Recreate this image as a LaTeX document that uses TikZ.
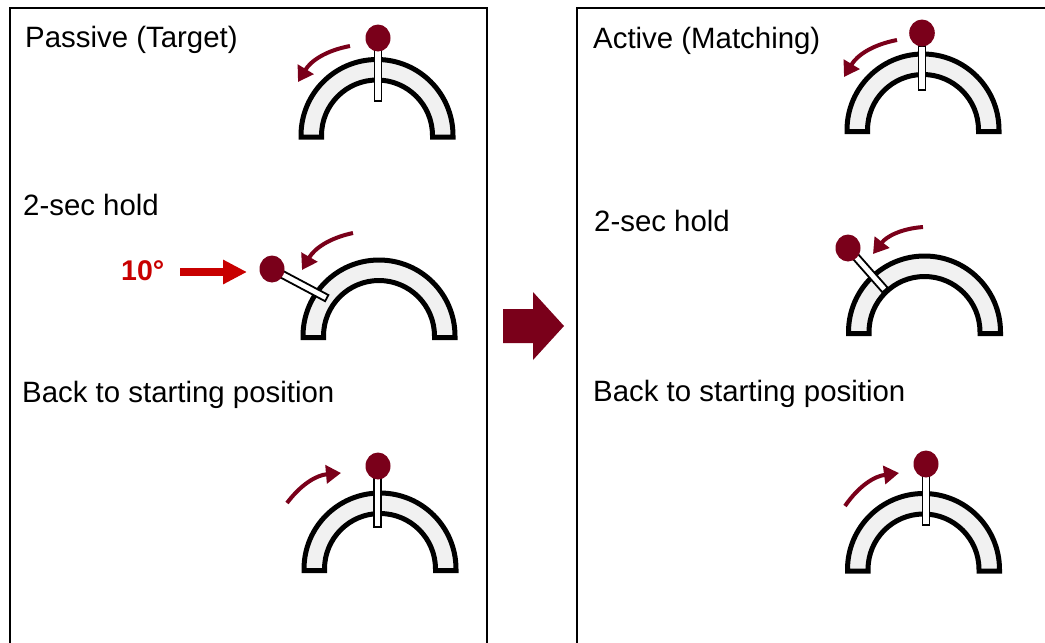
\documentclass[tikz,border=0pt]{standalone}
\usepackage{fontspec}
\setmainfont{Liberation Sans}
\usetikzlibrary{arrows.meta}
\definecolor{wine}{RGB}{122,0,26}
\definecolor{signalred}{RGB}{200,0,0}
\definecolor{bandgray}{RGB}{241,241,241}

\begin{document}
\begin{tikzpicture}[x=1pt,y=1pt,
  panel/.style={draw=black,line width=2pt},
  caption/.style={anchor=base west,inner sep=0pt,font=\fontsize{29.4}{34}\selectfont},
  anglecaption/.style={anchor=base west,inner sep=0pt,text=signalred,font=\fontsize{28.5}{34}\selectfont\bfseries},
  band/.style={fill=bandgray,draw=black,line width=5pt},
  stick/.style={fill=white,draw=black,line width=1.8pt},
  knob/.style={fill=wine},
  turn/.style={draw=wine,line width=4pt,-{Triangle[length=15pt,width=18pt]}},
  push/.style={draw=signalred,line width=8pt,-{Triangle[length=24pt,width=23pt]}},
  arch/.pic={
    \path[band] (-76,-1.5) -- (-76,0) arc[start angle=180,end angle=0,radius=76pt]
      -- (76,-1.5) -- (55.5,-1.5) -- (55.5,0)
      arc[start angle=0,end angle=180,radius=55.5pt] -- (-55.5,-1.5) -- cycle;
  }
]
\useasboundingbox (0,0) rectangle (1045,-643);

% two panels, running off the bottom edge
\draw[panel] (9.5,-660) -- (9.5,-8) -- (487,-8) -- (487,-660);
\draw[panel] (577,-660) -- (577,-8) -- (1052,-8) -- (1052,-660);

% captions
\node[caption] (ptitle) at (25,-47) {Passive (Target)};
\node[caption] (phold)  at (23,-215) {2-sec hold};
\node[caption] (pback)  at (22,-402) {Back to starting position};
\node[caption] (atitle) at (593,-48) {Active (Matching)};
\node[caption] (ahold)  at (594,-231) {2-sec hold};
\node[caption] (aback)  at (593,-401) {Back to starting position};
\node[anglecaption] (deg) at (121,-280) {10°};

% ---------- passive: start ----------
\pic at (377,-135.5) {arch};
\draw[stick] (374.5,-50) rectangle (381.5,-101);
\fill[knob] (378,-38) ellipse [x radius=12.5pt, y radius=13.5pt];
\coordinate (t1s) at (350,-46);
\coordinate (t1e) at (298,-82);
\draw[turn] (t1s) to[bend right=24] (t1e);

% ---------- passive: hold ----------
\pic at (379,-336) {arch};
\begin{scope}[shift={(272,-269)},rotate=-28]
  \draw[stick] (8,-3.5) rectangle (62,3.5);
\end{scope}
\fill[knob] (272,-269) ellipse [x radius=12.5pt, y radius=13.5pt];
\coordinate (t2s) at (353,-233);
\coordinate (t2e) at (302,-270);
\draw[turn] (t2s) to[bend right=24] (t2e);
\coordinate (p2s) at (180,-272);
\coordinate (p2e) at (247,-272);
\draw[push] (p2s) -- (p2e);

% ---------- passive: back ----------
\pic at (380,-569) {arch};
\draw[stick] (374,-476) rectangle (381,-527);
\fill[knob] (378,-466) ellipse [x radius=12.5pt, y radius=13.5pt];
\coordinate (t5s) at (287,-503);
\coordinate (t5e) at (341,-473);
\draw[turn] (t5s) to[bend left=24] (t5e);

% ---------- block arrow between panels ----------
\fill[wine] (503,-309) -- (533,-309) -- (533,-292) -- (564,-326)
  -- (533,-360) -- (533,-343) -- (503,-343) -- cycle;

% ---------- active: start ----------
\pic at (923,-130) {arch};
\draw[stick] (918.5,-46) rectangle (925.5,-90);
\fill[knob] (922,-33) ellipse [x radius=12.8pt, y radius=13.5pt];
\coordinate (t3s) at (897,-40);
\coordinate (t3e) at (844,-77);
\draw[turn] (t3s) to[bend right=24] (t3e);

% ---------- active: hold ----------
\pic at (924.5,-332) {arch};
\begin{scope}[shift={(848,-248)},rotate=-48.6]
  \draw[stick] (8,-3.5) rectangle (56,3.5);
\end{scope}
\fill[knob] (848,-248) ellipse [x radius=12.5pt, y radius=13.5pt];
\coordinate (t4s) at (923,-227);
\coordinate (t4e) at (873,-254);
\draw[turn] (t4s) to[bend right=24] (t4e);

% ---------- active: back ----------
\pic at (923.5,-569.5) {arch};
\draw[stick] (922.5,-476) rectangle (929.5,-525);
\fill[knob] (926,-464) ellipse [x radius=12.5pt, y radius=13.5pt];
\coordinate (t6s) at (845,-506);
\coordinate (t6e) at (899,-473);
\draw[turn] (t6s) to[bend left=24] (t6e);

\end{tikzpicture}
\end{document}
